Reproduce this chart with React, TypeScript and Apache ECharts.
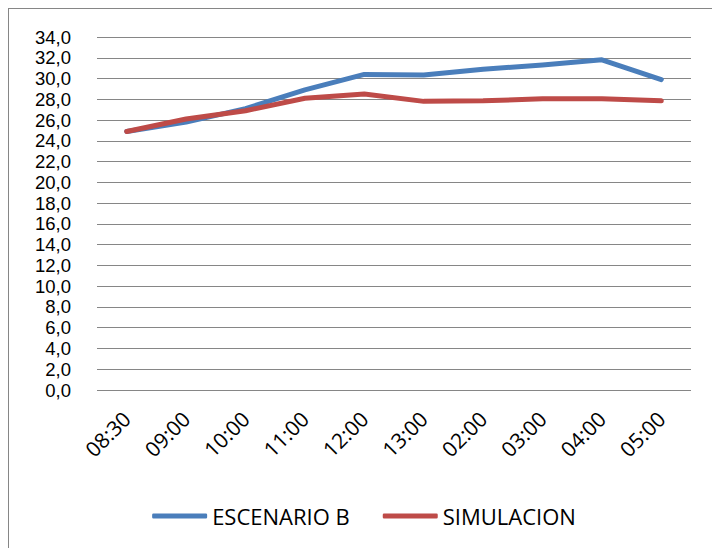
import React, { useEffect, useRef } from "react";
import * as echarts from "echarts";

const categories = ["08:30", "09:00", "10:00", "11:00", "12:00", "13:00", "02:00", "03:00", "04:00", "05:00"];
const escenarioB = [24.9, 25.8, 27.1, 28.9, 30.4, 30.35, 30.9, 31.3, 31.8, 29.9];
const simulacion = [24.9, 26.1, 26.9, 28.1, 28.5, 27.8, 27.85, 28.05, 28.05, 27.85];
const seriesNames = ["ESCENARIO B", "SIMULACION"];

const FONT = "'Open Sans', 'Noto Sans', sans-serif";
const YFONT = "'Liberation Sans', Arial, sans-serif";

export default function App() {
  const ref = useRef<HTMLDivElement>(null);
  useEffect(() => {
    if (!ref.current) return;
    const chart = echarts.init(ref.current, undefined, { renderer: "svg" });
    chart.setOption({
      animation: false,
      backgroundColor: "#ffffff",
      grid: { left: 88, right: 28, top: 28, bottom: 165, containLabel: false },
      legend: {
        data: seriesNames,
        left: "center",
        top: 491,
        itemWidth: 55,
        itemHeight: 5,
        itemGap: 33,
        icon: "roundRect",
        textStyle: { fontFamily: FONT, fontSize: 22, color: "#000", lineHeight: 22 },
      },
      xAxis: {
        type: "category",
        data: categories,
        boundaryGap: true,
        axisLine: { show: false },
        axisTick: { show: false },
        axisLabel: { rotate: 45, fontFamily: FONT, fontSize: 21, color: "#000", margin: 25, lineHeight: 21 },
      },
      yAxis: {
        type: "value",
        min: 0,
        max: 34,
        interval: 2,
        axisLine: { show: false },
        axisTick: { show: false },
        splitLine: { lineStyle: { color: "#868686", width: 1 } },
        axisLabel: {
          fontFamily: YFONT,
          fontSize: 18.5,
          lineHeight: 19,
          color: "#000",
          margin: 26,
          formatter: (v: number) => v.toFixed(1).replace(".", ","),
        },
      },
      series: [
        {
          name: seriesNames[0],
          type: "line",
          data: escenarioB,
          symbol: "none",
          lineStyle: { color: "#4A7EBB", width: 5, cap: "round", join: "round" },
          itemStyle: { color: "#4A7EBB" },
        },
        {
          name: seriesNames[1],
          type: "line",
          data: simulacion,
          symbol: "none",
          lineStyle: { color: "#BE4B48", width: 5, cap: "round", join: "round" },
          itemStyle: { color: "#BE4B48" },
        },
      ],
    });
    return () => chart.dispose();
  }, []);
  return (
    <div
      style={{
        width: 712,
        height: 548,
        border: "1px solid #868686",
        boxSizing: "border-box",
        background: "#fff",
      }}
    >
      <div ref={ref} style={{ width: 710, height: 546 }} />
    </div>
  );
}
